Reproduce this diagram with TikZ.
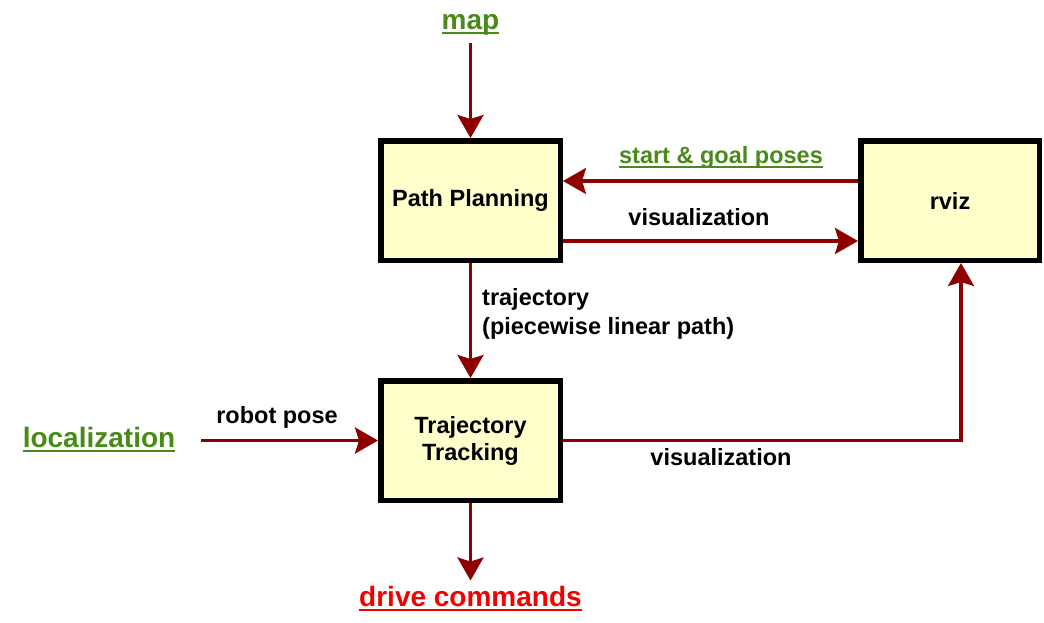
\documentclass[tikz,border=0pt]{standalone}
\usepackage{fontspec}
\setmainfont{Liberation Sans}
\usetikzlibrary{arrows.meta,calc}
\definecolor{arrred}{HTML}{8E0000}
\definecolor{boxfill}{HTML}{FFFFCC}
\definecolor{mygreen}{HTML}{4A8A18}
\definecolor{myred}{HTML}{F20000}
\newcommand{\myul}[1]{\setbox0\hbox{#1}\rlap{\vrule height -3pt depth 5pt width \wd0}\box0}
\begin{document}
\begin{tikzpicture}[x=1pt,y=-1pt,
  box/.style={draw=black, line width=5.5pt, fill=boxfill, minimum width=179.5pt,
    minimum height=119.5pt, inner sep=0pt, align=center,
    font=\bfseries\fontsize{23.5}{27}\selectfont},
  lbl/.style={inner sep=0pt, anchor=base, font=\bfseries\fontsize{23.5}{29}\selectfont},
  big/.style={inner sep=0pt, anchor=base, font=\bfseries\fontsize{28}{34}\selectfont},
  arr/.style={draw=arrred, line width=3.5pt, -{Stealth[length=23pt,width=26pt,inset=4pt]}}]
\useasboundingbox (0,0) rectangle (1044,622);
% boxes
\node[box] (pp) at (470.5,200.5) {\raisebox{-3pt}{Path Planning}};
\node[box] (tt) at (470.5,440.5) {Trajectory\\Tracking};
\node[box, minimum width=178.5pt] (rv) at (950,200.5) {rviz};
% labels
\node[big, text=mygreen] (map) at (470.5,29) {\myul{map}};
\node[lbl, text=mygreen] (sg) at (721,163) {\myul{start \& goal poses}};
\node[lbl] (vis1) at (699,225) {visualization};
\node[lbl, anchor=west, align=left, font=\bfseries\fontsize{23.5}{29}\selectfont] (traj) at (482,314) {trajectory\\(piecewise linear path)};
\node[lbl] (rp) at (277,423) {robot pose};
\node[big, text=mygreen] (loc) at (99,447) {\myul{localization}};
\node[lbl] (vis2) at (721,465) {visualization};
\node[big, text=myred] (drv) at (470.5,606) {\myul{drive commands}};
% helper coordinates
\coordinate (ysg) at (0,181);
\coordinate (yv) at (0,241);
% connectors
\draw[arr, shorten <=8pt] (map.south) -- (pp.north);
\draw[arr] (rv.west |- ysg) -- (pp.east |- ysg);
\draw[arr] (pp.east |- yv) -- (rv.west |- yv);
\draw[arr] (pp.south) -- (tt.north);
\draw[arr] ($(loc.east |- tt.west)+(26,0)$) -- (tt.west);
\draw[arr] (tt.east) -| ([xshift=11pt]rv.south);
\draw[arr, shorten >=5pt] (tt.south) -- (drv.north);
\end{tikzpicture}
\end{document}
